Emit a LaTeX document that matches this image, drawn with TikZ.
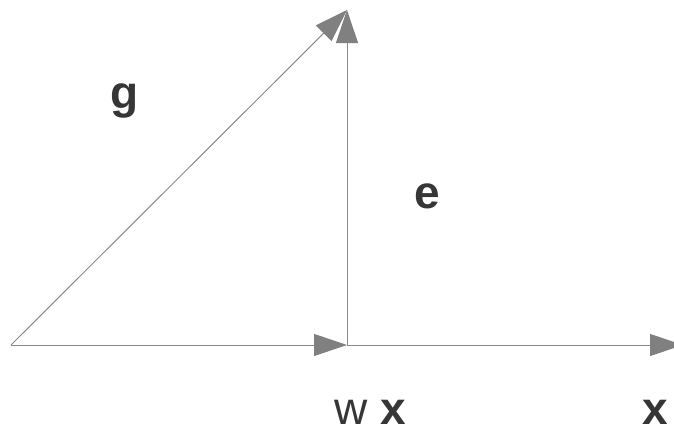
\documentclass[tikz,border=0pt]{standalone}
\usepackage{fontspec}
\setmainfont{Liberation Sans}
\usetikzlibrary{arrows.meta}
\definecolor{linegray}{HTML}{8A8A8A}
\definecolor{headgray}{HTML}{808080}
\definecolor{txt}{HTML}{363636}
\tikzset{
  vec/.style={draw=linegray, line width=1pt, -{Triangle[length=33pt,width=22pt,fill=headgray,color=headgray]}},
  lbl/.style={anchor=base, inner sep=0pt, text=txt, font=\fontsize{46}{46}\selectfont}
}
\begin{document}
\begin{tikzpicture}[x=1pt,y=-1pt]
\useasboundingbox (0,0) rectangle (674,426);
\coordinate (O) at (11,345);
\coordinate (P) at (347,345);
\coordinate (T) at (347,10);
\coordinate (E) at (683,345);
\draw[vec] (O) -- (P);
\draw[vec] (P) -- (E);
\draw[vec] (P) -- (T);
\draw[vec] (O) -- (T);
\node[lbl] (g) at (124.5,108) {\textbf{g}};
\node[lbl] (e) at (427.5,208) {\textbf{e}};
\node[lbl] (wx) at (370,424) {w \textbf{x}};
\node[lbl] (x) at (655,424) {\textbf{x}};
\end{tikzpicture}
\end{document}
